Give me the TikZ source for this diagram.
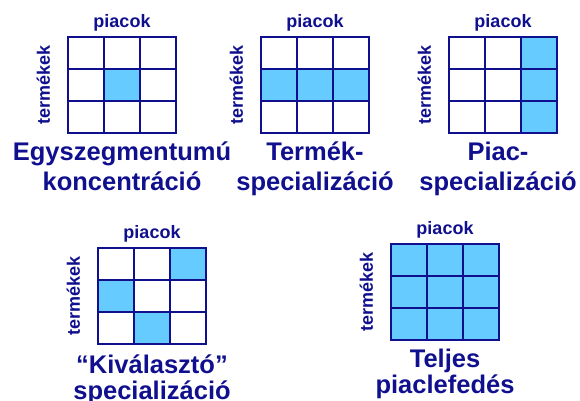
\documentclass[tikz,border=0pt]{standalone}
\usepackage{fontspec}
\setmainfont{Liberation Sans}
\usetikzlibrary{positioning}
\definecolor{navy}{HTML}{10108F}
\definecolor{sky}{HTML}{66CCFF}

\begin{document}
\begin{tikzpicture}[
  x=1pt,y=-1pt,
  every node/.style={text=navy},
  cell/.style={draw=navy,line width=1.6pt,minimum width=36pt,minimum height=32pt,inner sep=0pt},
  hot/.style={cell,fill=sky},
  axis/.style={font=\fontsize{18}{20}\bfseries\selectfont,inner sep=0pt},
  title/.style={font=\fontsize{25.5}{30}\bfseries\selectfont,align=center,inner sep=0pt},
  tight/.style={font=\fontsize{25.5}{26}\bfseries\selectfont}
]
\useasboundingbox (0,0) rectangle (580,400);
% 3x3 grids: name/left/top
\foreach \g/\gx/\gy in {a/68/37,b/261/37,c/449/37,d/98/248,e/391/244}
  \foreach \r in {0,1,2}
    \foreach \c in {0,1,2}
      \node[cell] (\g\r\c) at ({\gx+18+36*\c},{\gy+16+32*\r}) {};
% filled cells
\foreach \n in {a11,b10,b11,b12,c02,c12,c22,d02,d10,d21,e00,e01,e02,e10,e11,e12,e20,e21,e22}
  \node[hot] at (\n) {};
% axis labels
\foreach \g in {a,b,c,d,e}{
  \node[axis,above=9pt of \g01,anchor=base] (\g-top) {piacok};
  \node[axis,rotate=90,left=17pt of \g10,anchor=south] (\g-side) {termékek};
}
% captions
\node[title,below=8pt of a21] (a-name) {Egyszegmentumú\\koncentráció};
\node[title,below=8pt of b21] (b-name) {Termék-\\specializáció};
\node[title,below=8pt of c21,xshift=-5pt] (c-name) {Piac-\\specializáció};
\node[title,tight,below=10pt of d21] (d-name) {“Kiválasztó”\\specializáció};
\node[title,tight,below=8pt of e21] (e-name) {Teljes\\piaclefedés};
\end{tikzpicture}
\end{document}
